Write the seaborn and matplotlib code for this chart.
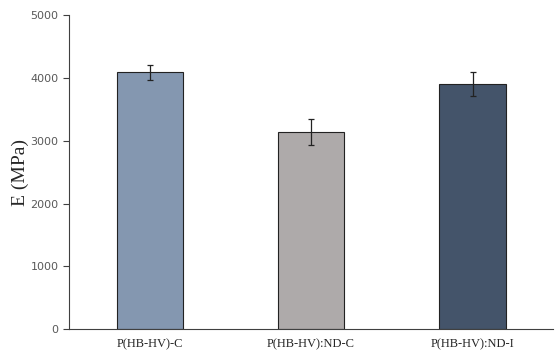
import pandas as pd
import matplotlib.pyplot as plt
import seaborn as sns

samples = ['P(HB-HV)-C', 'P(HB-HV):ND-C', 'P(HB-HV):ND-I']
modulus = [4090, 3140, 3905]
modulus_err = [115, 210, 195]
bar_colors = ['#8497B0', '#AEAAAA', '#44546A']

df = pd.DataFrame({'sample': samples, 'E': modulus})

sns.set_style('white')
fig = plt.figure(figsize=(5.56, 3.52), dpi=100)
ax = fig.add_axes([0.124, 0.065, 0.871, 0.892])

sns.barplot(data=df, x='sample', y='E', hue='sample', palette=bar_colors,
            saturation=1, width=0.41, edgecolor='#222222', linewidth=0.8,
            legend=False, ax=ax)
ax.errorbar(range(len(samples)), modulus, yerr=modulus_err, fmt='none',
            ecolor='#222222', elinewidth=0.9, capsize=2.5, capthick=0.9)

ax.set_ylim(0, 5000)
ax.set_xlim(-0.5, 2.5)
ax.set_yticks(range(0, 5001, 1000))
ax.set_xlabel('')
ax.set_ylabel('E (MPa)', family='Liberation Serif', fontsize=14, labelpad=1)
ax.tick_params(axis='y', labelsize=8, labelcolor='#595959', left=True,
               length=4, width=0.8, color='#404040', direction='out')
ax.tick_params(axis='x', bottom=False, pad=3)
for lbl in ax.get_xticklabels():
    lbl.set_family('Liberation Serif')
    lbl.set_fontsize(9)
sns.despine(ax=ax)
for s in ['left', 'bottom']:
    ax.spines[s].set_color('#404040')
    ax.spines[s].set_linewidth(0.8)

fig.savefig('out.png', dpi=100)
